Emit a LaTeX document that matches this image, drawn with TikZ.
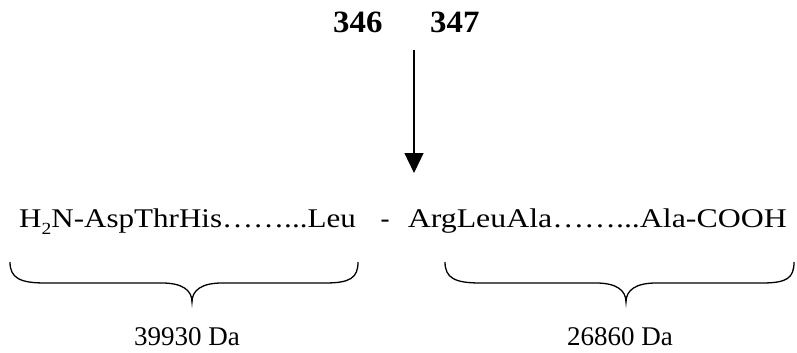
\documentclass[tikz,border=0pt]{standalone}
\usepackage{fontspec}
\usepackage{graphicx}
\setmainfont{Liberation Serif}
\usetikzlibrary{arrows.meta}
\begin{document}
\begin{tikzpicture}[x=1pt,y=-1pt,
  seq/.style={inner sep=0pt,font=\fontsize{27}{31}\selectfont},
  num/.style={inner sep=0pt,font=\fontsize{31}{35}\selectfont\bfseries},
  mass/.style={inner sep=0pt,font=\fontsize{27}{31}\selectfont},
  brc/.style={line width=1.3pt},
  cut/.style={line width=1.3pt,-{Triangle[length=20pt,width=19pt]}}]
\useasboundingbox (0,0) rectangle (797,353);
% residue numbers
\node[num,anchor=base west] (n346) at (333,33) {\scalebox{1.06}[1]{346}};
\node[num,anchor=base west] (n347) at (430,33) {\scalebox{1.06}[1]{347}};
% cleavage arrow
\coordinate (atop) at (414,50);
\coordinate (atip) at (414,173);
\draw[cut] (atop) -- (atip);
% sequence
\node[seq,anchor=base west] (left) at (19,227) {\scalebox{1.15}[1]{H\raisebox{-0.6ex}{\fontsize{17}{20}\selectfont 2}N-AspThrHis……...Leu}};
\node[seq,anchor=base] (dash) at (385,227) {-};
\node[seq,anchor=base east] (right) at (787,227) {\scalebox{1.18}[1]{ArgLeuAla……...Ala-COOH}};
% braces
\draw[brc] (10,262) .. controls (10,278) and (20,283) .. (45,283)
  -- (162,283) .. controls (182,283) and (192,290) .. (192,302)
  .. controls (192,290) and (202,283) .. (222,283)
  -- (325,283) .. controls (350,283) and (358,278) .. (358,262);
\draw[brc] (445,262) .. controls (445,278) and (455,283) .. (480,283)
  -- (596,283) .. controls (616,283) and (626,290) .. (626,302)
  .. controls (626,290) and (636,283) .. (656,283)
  -- (762,283) .. controls (787,283) and (794,278) .. (794,262);
% masses
\node[mass,anchor=base] (m1) at (187,345) {39930 Da};
\node[mass,anchor=base] (m2) at (620,345) {26860 Da};
\end{tikzpicture}
\end{document}
